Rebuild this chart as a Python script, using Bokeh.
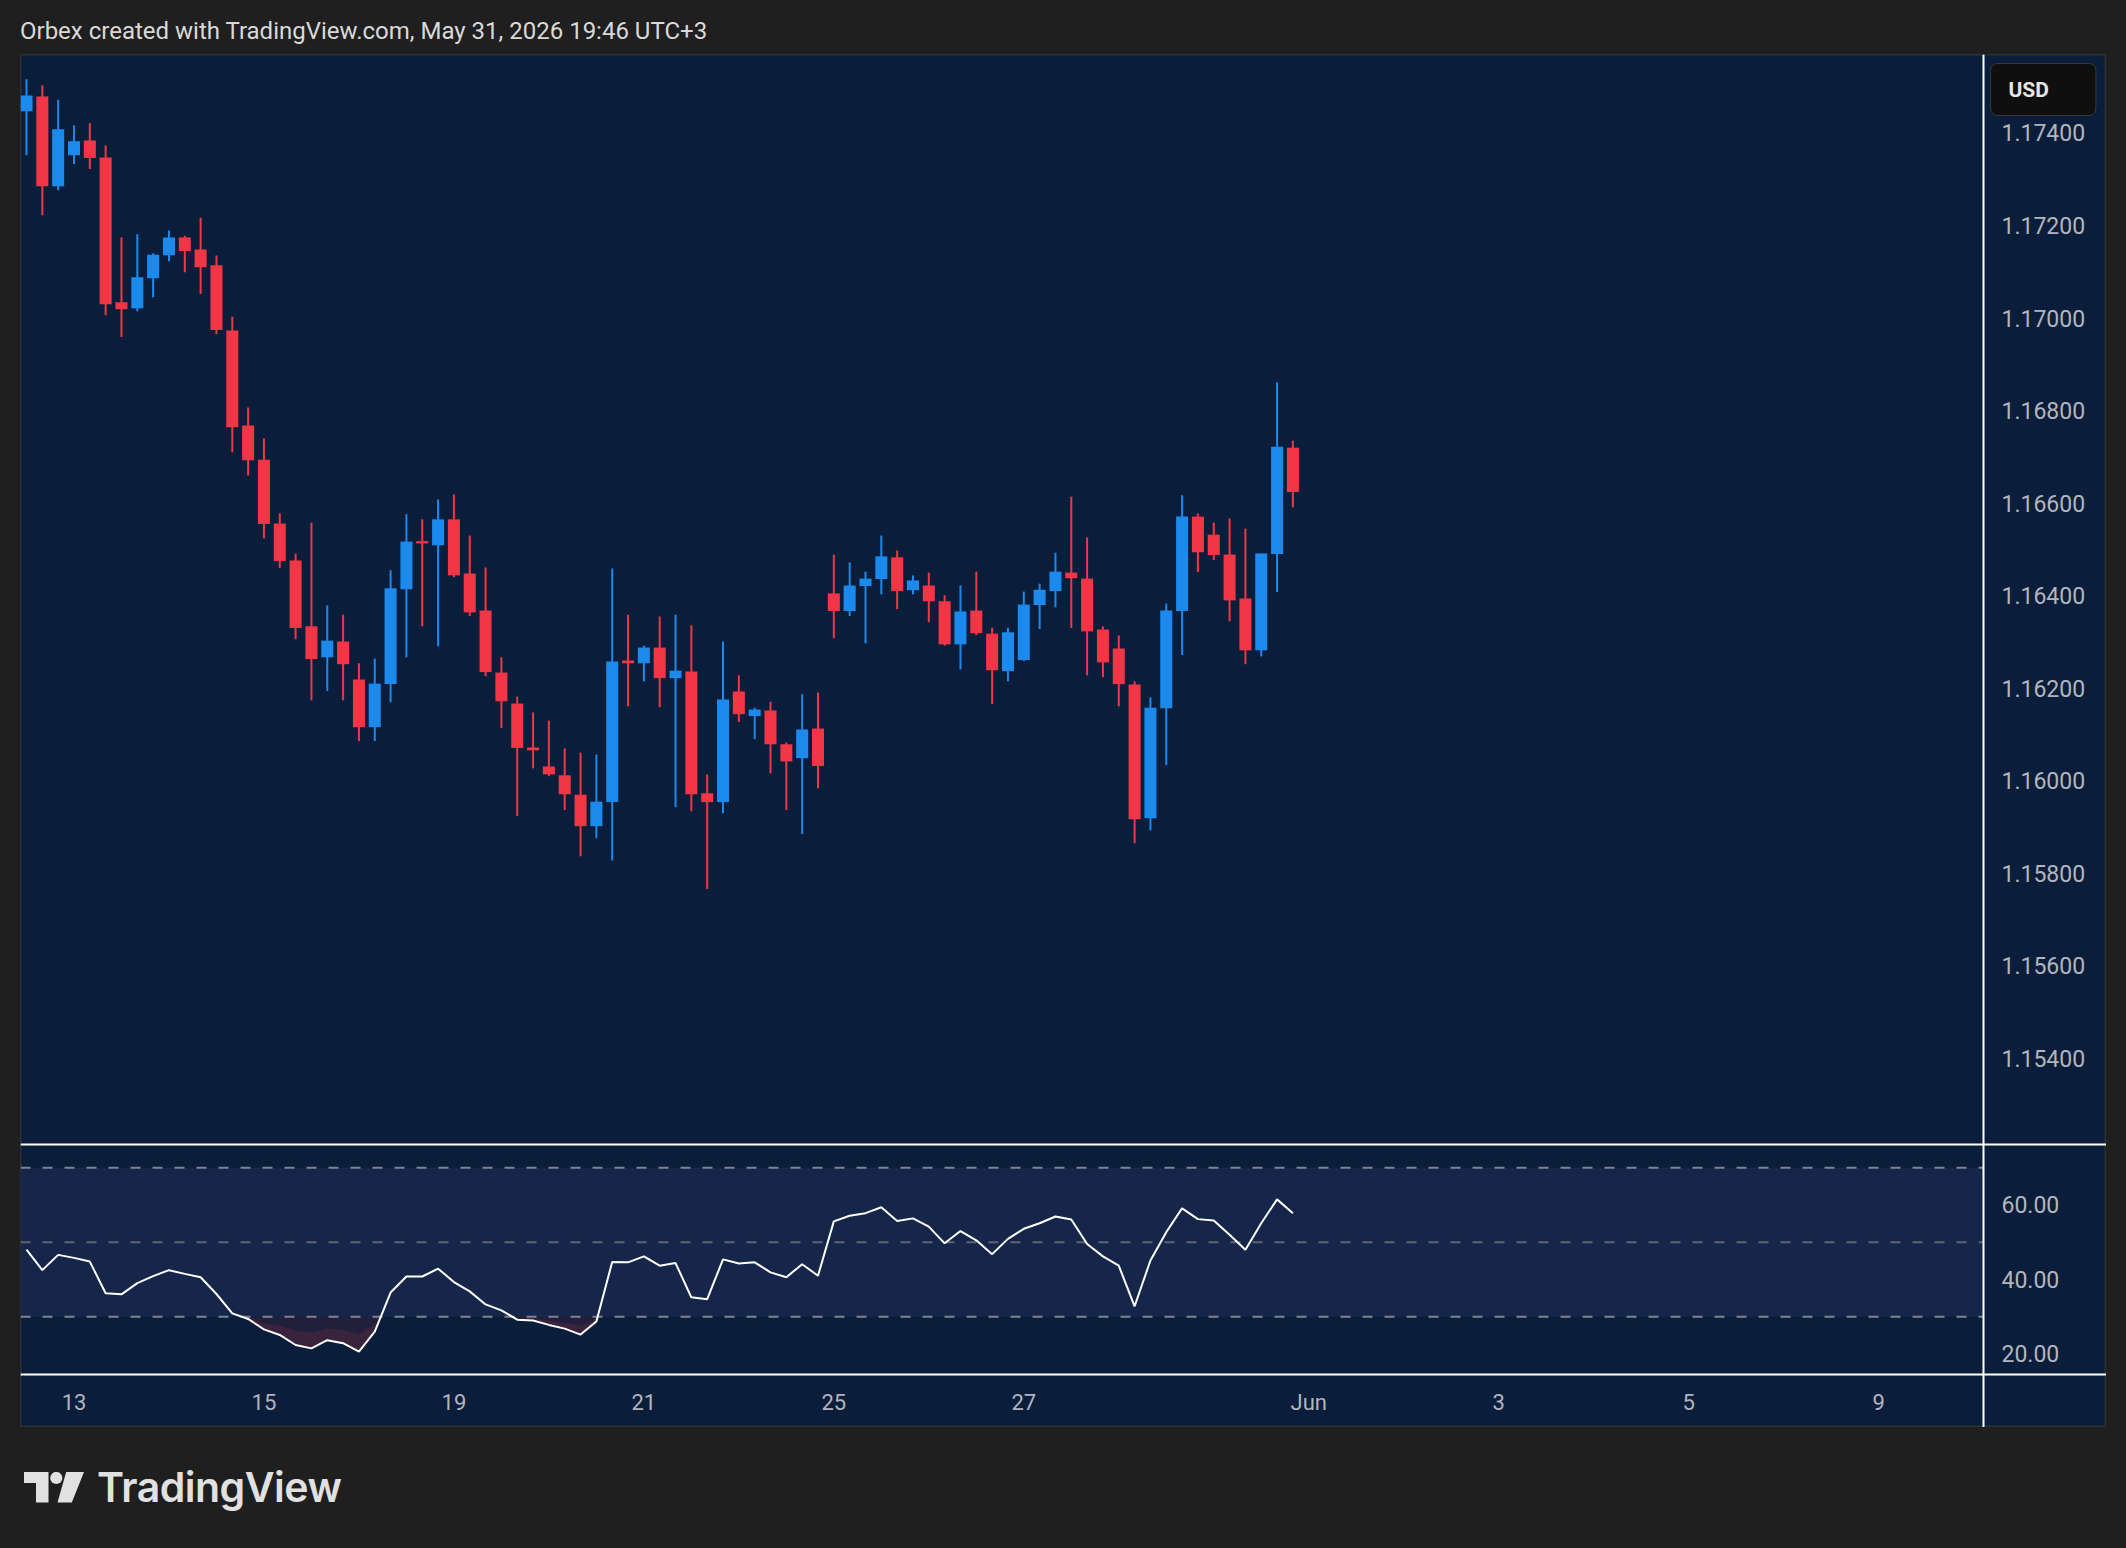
from bokeh.plotting import figure
from bokeh.models import (Range1d, FixedTicker, CustomJSTickFormatter, Span,
                          BoxAnnotation, Label, Div, Spacer, ColumnDataSource)
from bokeh.layouts import column, row
from bokeh.embed import file_html
from bokeh.resources import INLINE

# ---------------- data (EURUSD 4H) ----------------
opens = [1.17447, 1.17479, 1.17285, 1.17352, 1.17384, 1.17347, 1.17034, 1.17021, 1.17086, 1.17136,
         1.17174, 1.17148, 1.17114, 1.16973, 1.16768, 1.16694, 1.16556, 1.16476, 1.16334, 1.16267,
         1.16301, 1.16219, 1.16116, 1.16209, 1.16414, 1.16518, 1.16509, 1.16565, 1.16448, 1.16368,
         1.16234, 1.16167, 1.16072, 1.16031, 1.16012, 1.15970, 1.15902, 1.15954, 1.16260, 1.16254,
         1.16288, 1.16222, 1.16236, 1.15973, 1.15954, 1.16193, 1.16140, 1.16152, 1.16079, 1.16049,
         1.16113, 1.16405, 1.16367, 1.16421, 1.16436, 1.16483, 1.16412, 1.16422, 1.16388, 1.16295,
         1.16368, 1.16318, 1.16237, 1.16261, 1.16380, 1.16410, 1.16450, 1.16437, 1.16327, 1.16286,
         1.16208, 1.15919, 1.16157, 1.16367, 1.16571, 1.16532, 1.16489, 1.16394, 1.16282, 1.16490,
         1.16720]
highs = [1.17516, 1.17503, 1.17472, 1.17416, 1.17421, 1.17373, 1.17174, 1.17181, 1.17140, 1.17189,
         1.17178, 1.17217, 1.17135, 1.17003, 1.16807, 1.16740, 1.16578, 1.16491, 1.16558, 1.16379,
         1.16359, 1.16254, 1.16264, 1.16455, 1.16576, 1.16565, 1.16608, 1.16619, 1.16530, 1.16461,
         1.16267, 1.16182, 1.16148, 1.16130, 1.16070, 1.16061, 1.16057, 1.16459, 1.16359, 1.16292,
         1.16355, 1.16359, 1.16336, 1.16014, 1.16301, 1.16228, 1.16158, 1.16171, 1.16083, 1.16187,
         1.16191, 1.16489, 1.16472, 1.16452, 1.16530, 1.16498, 1.16444, 1.16450, 1.16401, 1.16422,
         1.16452, 1.16331, 1.16331, 1.16409, 1.16426, 1.16493, 1.16614, 1.16526, 1.16334, 1.16314,
         1.16215, 1.16180, 1.16383, 1.16617, 1.16578, 1.16558, 1.16567, 1.16545, 1.16491, 1.16861,
         1.16735]
lows = [1.17352, 1.17222, 1.17276, 1.17333, 1.17322, 1.17006, 1.16959, 1.17015, 1.17045, 1.17123,
        1.17099, 1.17052, 1.16965, 1.16710, 1.16660, 1.16524, 1.16460, 1.16306, 1.16174, 1.16194,
        1.16174, 1.16086, 1.16086, 1.16170, 1.16267, 1.16334, 1.16291, 1.16440, 1.16356, 1.16226,
        1.16114, 1.15924, 1.16027, 1.16010, 1.15937, 1.15837, 1.15876, 1.15828, 1.16161, 1.16215,
        1.16159, 1.15943, 1.15934, 1.15766, 1.15930, 1.16127, 1.16090, 1.16016, 1.15937, 1.15885,
        1.15984, 1.16308, 1.16356, 1.16297, 1.16403, 1.16371, 1.16403, 1.16343, 1.16292, 1.16241,
        1.16315, 1.16166, 1.16215, 1.16259, 1.16328, 1.16375, 1.16330, 1.16228, 1.16224, 1.16161,
        1.15865, 1.15893, 1.16034, 1.16272, 1.16451, 1.16477, 1.16345, 1.16252, 1.16269, 1.16408,
        1.16591]
closes = [1.17481, 1.17285, 1.17408, 1.17382, 1.17346, 1.17030, 1.17019, 1.17088, 1.17137, 1.17174,
          1.17145, 1.17110, 1.16974, 1.16764, 1.16693, 1.16555, 1.16475, 1.16330, 1.16263, 1.16303,
          1.16252, 1.16116, 1.16210, 1.16416, 1.16517, 1.16513, 1.16565, 1.16444, 1.16364, 1.16235,
          1.16172, 1.16071, 1.16066, 1.16014, 1.15971, 1.15902, 1.15955, 1.16258, 1.16254, 1.16288,
          1.16222, 1.16238, 1.15971, 1.15954, 1.16176, 1.16144, 1.16154, 1.16079, 1.16042, 1.16111,
          1.16032, 1.16367, 1.16422, 1.16437, 1.16485, 1.16410, 1.16433, 1.16388, 1.16295, 1.16366,
          1.16319, 1.16239, 1.16321, 1.16381, 1.16413, 1.16452, 1.16438, 1.16323, 1.16256, 1.16209,
          1.15917, 1.16158, 1.16368, 1.16571, 1.16494, 1.16488, 1.16390, 1.16282, 1.16491, 1.16722,
          1.16624]
rsi = [48.0, 42.5, 46.6, 45.8, 44.8, 36.3, 36.0, 39.0, 40.9, 42.5,
       41.5, 40.6, 36.1, 30.9, 29.4, 26.6, 25.1, 22.4, 21.5, 23.7,
       22.9, 20.6, 26.0, 36.5, 40.8, 40.8, 42.9, 39.3, 36.8, 33.3,
       31.7, 29.2, 29.0, 27.8, 26.8, 25.2, 28.7, 44.7, 44.6, 46.2,
       43.7, 44.4, 35.2, 34.7, 45.4, 44.3, 44.6, 41.9, 40.6, 44.1,
       41.0, 55.6, 57.1, 57.8, 59.4, 55.7, 56.4, 54.2, 49.7, 53.0,
       50.5, 46.8, 50.9, 53.6, 55.1, 56.9, 56.1, 49.5, 46.2, 43.7,
       32.8, 45.1, 52.7, 59.1, 56.2, 55.8, 52.0, 48.0, 55.1, 61.5,
       57.8]

date_tick_bars = [3, 15, 27, 39, 51, 63, 81, 93, 105, 117]
date_tick_labels = ["13", "15", "19", "21", "25", "27", "Jun", "3", "5", "9"]
price_ticks = [1.154, 1.156, 1.158, 1.160, 1.162, 1.164, 1.166, 1.168, 1.170, 1.172, 1.174]
rsi_ticks = [20, 40, 60]
rsi_levels = [70, 50, 30]
RSI_OB, RSI_OS = 70, 30

title_text = "Orbex created with TradingView.com, May 31, 2026 19:46 UTC+3"
currency = "USD"

# ---------------- styling / geometry ----------------
PAGE_BG = "#1f1f1f"
PANE_BG = "#0a1e3c"
BAND_BG = "#16264a"
UP = "#1c8aec"
DOWN = "#f23645"
AXIS_TXT = "#b2b5be"
FONT = "Roboto"

FIG_W, FIG_H = 2086, 1373          # whole chart panel (page x 20..2106, y 54..1427)
PANEL_X0, PANEL_Y0 = 20, 54
BAR_PX = 15.83                      # pixels per bar
PRICE_PX = 46275.0                  # pixels per price unit
RSI_PX = 3.725                      # pixels per RSI point
SCALE_X = 1983                      # page x of the price scale border
SEP_Y = 1144                        # page y of pane separator
RSI_BOTTOM_Y = 1374                 # page y of the RSI pane bottom / time scale

X_LO = -0.379
X_HI = X_LO + FIG_W / BAR_PX
P_HI = 1.175696
P_LO = P_HI - FIG_H / PRICE_PX
R_HI = 368.85
R_LO = R_HI - FIG_H / RSI_PX


def page_x(px):
    return X_LO + (px - PANEL_X0) / BAR_PX


def page_price(py):
    return P_HI - (py - PANEL_Y0) / PRICE_PX


def rsi_to_price(r):
    return P_LO + (r - R_LO) / (R_HI - R_LO) * (P_HI - P_LO)


X_AX = page_x(SCALE_X)
p_sep = page_price(SEP_Y)
p_time = page_price(RSI_BOTTOM_Y)

n = len(closes)
idx = list(range(n))
up = [c >= o for o, c in zip(opens, closes)]


def subset(flag):
    ii = [i for i in idx if up[i] == flag]
    return ColumnDataSource(dict(
        x=ii,
        top=[max(opens[i], closes[i]) for i in ii],
        bottom=[min(opens[i], closes[i]) for i in ii],
        high=[highs[i] for i in ii],
        low=[lows[i] for i in ii],
    ))


src_up, src_dn = subset(True), subset(False)

p = figure(width=FIG_W, height=FIG_H, x_range=Range1d(X_LO, X_HI),
           y_range=Range1d(P_LO, P_HI), output_backend="svg",
           toolbar_location=None, y_axis_location="right",
           min_border=0, min_border_left=0, min_border_top=0,
           min_border_right=0, min_border_bottom=0,
           background_fill_color=PANE_BG, border_fill_color=PANE_BG,
           outline_line_color="#2c2f36", outline_line_width=2)
p.extra_y_ranges = {"rsi": Range1d(R_LO, R_HI)}
p.grid.visible = False

# RSI band and levels (stop at the price scale)
p.add_layout(BoxAnnotation(bottom=RSI_OS, top=RSI_OB, right=X_AX, y_range_name="rsi",
                           fill_color=BAND_BG, fill_alpha=1.0, line_color=None,
                           level="underlay"))
lvl_src = ColumnDataSource(dict(
    x0=[X_LO] * len(rsi_levels), x1=[X_AX] * len(rsi_levels),
    y=rsi_levels,
    c=["#5f6372" if lv == 50 else "#80838e" for lv in rsi_levels]))
p.segment(x0="x0", y0="y", x1="x1", y1="y", source=lvl_src, y_range_name="rsi",
          line_color="c", line_dash="10 12", line_width=2)

# oversold fill (derived from rsi, with crossing points)
fx, fy = [], []
for i in range(n):
    r = rsi[i]
    fx.append(i)
    fy.append(min(r, RSI_OS))
    if i < n - 1:
        r2 = rsi[i + 1]
        if (r - RSI_OS) * (r2 - RSI_OS) < 0:
            t = (RSI_OS - r) / (r2 - r)
            fx.append(i + t)
            fy.append(RSI_OS)
p.varea(x=fx, y1=fy, y2=[RSI_OS] * len(fx), y_range_name="rsi",
        fill_color=DOWN, fill_alpha=0.10)
p.varea(x=fx, y1=fy, y2=[(v + RSI_OS) / 2 for v in fy], y_range_name="rsi",
        fill_color=DOWN, fill_alpha=0.12)

p.line(x=idx, y=rsi, y_range_name="rsi", line_color="#ffffff", line_width=2)

# separator between panes
p.add_layout(Span(location=p_sep, dimension="width", line_color="#ffffff", line_width=2))

# candles
for src, colr in ((src_up, UP), (src_dn, DOWN)):
    p.segment(x0="x", y0="low", x1="x", y1="high", source=src,
              line_color=colr, line_width=2)
    p.vbar(x="x", width=0.76, top="top", bottom="bottom", source=src,
           fill_color=colr, line_color=None)

# right axis (price + rsi labels), drawn at the price-scale border
yax = p.yaxis[0]
yax.fixed_location = X_AX
yax.ticker = FixedTicker(ticks=price_ticks + [rsi_to_price(r) for r in rsi_ticks])
yax.formatter = CustomJSTickFormatter(
    args=dict(cut=p_sep, plo=P_LO, phi=P_HI, rlo=R_LO, rhi=R_HI),
    code="""
    if (tick < cut) {
        const r = rlo + (tick - plo) / (phi - plo) * (rhi - rlo);
        return r.toFixed(2);
    }
    return tick.toFixed(5);
    """)
yax.axis_line_color = "#ffffff"
yax.axis_line_width = 2
yax.major_tick_line_color = None
yax.minor_tick_line_color = None
yax.major_tick_out = 0
yax.major_tick_in = 0
yax.minor_tick_out = 0
yax.minor_tick_in = 0
yax.major_label_standoff = 18
yax.major_label_text_color = AXIS_TXT
yax.major_label_text_font = FONT
yax.major_label_text_font_size = "23px"

# bottom (time) axis, drawn at the RSI pane bottom
xax = p.xaxis[0]
xax.fixed_location = p_time
xax.ticker = FixedTicker(ticks=date_tick_bars)
xax.major_label_overrides = {b: l for b, l in zip(date_tick_bars, date_tick_labels)}
xax.axis_line_color = "#ffffff"
xax.axis_line_width = 2
xax.major_tick_line_color = None
xax.minor_tick_line_color = None
xax.major_tick_out = 0
xax.major_tick_in = 0
xax.minor_tick_out = 0
xax.minor_tick_in = 0
xax.major_label_standoff = 15
xax.major_label_text_color = AXIS_TXT
xax.major_label_text_font = FONT
xax.major_label_text_font_size = "22px"

# currency badge over the price scale
p.add_layout(Label(x=page_x(1990), y=page_price(89), text=currency,
                   text_align="left", text_baseline="middle",
                   text_color="#e6e6e6", text_font=FONT, text_font_size="21px",
                   text_font_style="bold",
                   background_fill_color="#0f0f0f", background_fill_alpha=1.0,
                   border_line_color="#3a3a3a", border_line_width=1,
                   padding=dict(left=18, right=47, top=14, bottom=14),
                   border_radius=7))

title_div = Div(
    text=('<div style="font-family:Roboto,sans-serif;font-size:24px;color:#d9d9d9;'
          'padding:17px 0 0 20px;line-height:28px;white-space:nowrap">'
          + title_text + '</div>'),
    width=2126, height=54, margin=0)

logo_html = (
    '<div style="position:relative;width:600px;height:121px">'
    '<svg style="position:absolute;left:24px;top:45px" width="62" height="31" viewBox="0 0 62 31">'
    '<path d="M0 0H24.5V30.5H12V11H0Z" fill="#e1e1e1"/>'
    '<circle cx="32.3" cy="6" r="6.1" fill="#e1e1e1"/>'
    '<path d="M42.2 0H60L47.8 30.5H33.5Z" fill="#e1e1e1"/>'
    '</svg>'
    '<span style="position:absolute;left:97px;top:40px;font-family:Inter,sans-serif;'
    'font-weight:600;font-size:41px;line-height:41px;color:#e1e1e1;letter-spacing:-0.5px">'
    'TradingView</span></div>')
logo_div = Div(text=logo_html, width=2126, height=121, margin=0)

layout = column(title_div,
                row(Spacer(width=PANEL_X0, height=FIG_H, margin=0), p, margin=0),
                logo_div, margin=0)

html = file_html(layout, INLINE, title="EURUSD 4H")
html = html.replace("<head>", "<head><style>html,body{margin:0;padding:0;background:%s;}</style>" % PAGE_BG, 1)
open("out.html", "w").write(html)
